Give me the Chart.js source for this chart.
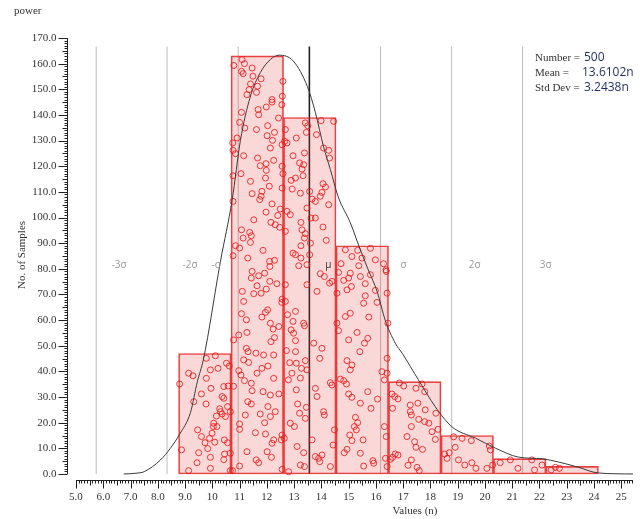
<!DOCTYPE html>
<html>
<head>
<meta charset="utf-8">
<script src="https://cdn.jsdelivr.net/npm/chart.js@4.4.0/dist/chart.umd.min.js"></script>
<style>
  body { margin: 0; background: #fff; }
  canvas { display: block; }
</style>
</head>
<body>
<canvas id="histChart" width="640" height="519"></canvas>
<script>
// histogram bins
var binEdges = [8.76, 10.69, 12.61, 14.54, 16.46, 18.39, 20.31, 22.24, 24.16];
var binCounts = [47, 163, 139, 89, 36, 15, 6, 3];

// smooth density curve
var curveX = [6.75, 7.2, 7.5, 8.1, 8.46, 8.8, 9.2, 9.45, 9.67, 10.3, 10.73, 11.03, 11.39, 11.76, 12.13, 12.45, 12.97, 13.49, 13.78, 14.08, 14.33, 14.62, 15.06, 15.43, 15.72, 16.05, 16.34, 16.71, 16.97, 17.56, 18.18, 18.8, 19.65, 20.38, 21.22, 22.1, 22.69, 23.4, 24.16, 25.45];
var curveY = [0, 0.3, 0.9, 5.5, 10, 15.5, 24, 36, 44.5, 83, 107, 130, 147, 156.5, 161.6, 163.3, 161, 151, 141, 127.6, 118.7, 108, 98, 87.4, 79.6, 71, 60, 51, 47, 36.7, 26.2, 18.3, 14, 10.1, 6.6, 5.9, 4.7, 2.7, 0.4, 0];

// sigma markers
var sigmaValues = [5.74, 8.34, 10.95, 13.56, 16.17, 18.78, 21.38];
var sigmaNames = ['-3\u03c3', '-2\u03c3', '-\u03c3', '\u03bc', '\u03c3', '2\u03c3', '3\u03c3'];

// tick labels
var xTicks = [5, 6, 7, 8, 9, 10, 11, 12, 13, 14, 15, 16, 17, 18, 19, 20, 21, 22, 23, 24, 25];
var yTicks = [0, 10, 20, 30, 40, 50, 60, 70, 80, 90, 100, 110, 120, 130, 140, 150, 160, 170];

var statNames = ['Number =', 'Mean =', 'Std Dev ='];
var statValues = ['500', '13.6102n', '3.2438n'];

// individual samples (jittered inside their bins)
var samples = [
  [9.13,39.3],[9.29,38.3],[8.80,35.1],[9.78,37.3],[9.93,40.6],[10.11,46.1],[9.78,45.1],[10.21,41.2],[10.52,43.2],[10.62,42.1],
  [9.95,33.4],[9.60,31.2],[9.32,28.2],[9.77,27.3],[10.42,34.1],[10.58,34.3],[10.36,30.2],[10.42,29.5],[10.27,25.4],[10.15,22.6],
  [10.56,26.3],[10.66,24.3],[10.48,22.4],[10.05,19.8],[9.46,17.2],[9.60,14.6],[9.99,15.9],[9.90,13.9],[9.73,12.2],[10.09,12.4],
  [10.44,13.3],[10.56,12.2],[8.87,9.4],[9.50,8.3],[9.93,6.5],[10.45,7.8],[10.66,8.1],[10.42,5.6],[9.44,4.4],[9.93,2.2],
  [9.13,1.3],[10.66,1.3],[10.30,24.3],[10.36,23.4],[10.17,18.5],[9.83,9.9],[10.04,18.5],
  [10.79,159.3],[11.09,161.6],[11.18,160.0],[11.46,158.3],[11.07,157.0],[11.13,156.1],[11.49,155.1],[11.79,154.1],[11.40,152.1],[11.66,151.2],
  [11.35,149.9],[11.62,148.8],[11.27,147.9],[12.19,146.0],[12.19,145.0],[12.59,153.1],[12.57,147.3],[12.55,144.0],[11.98,143.1],[11.68,142.1],
  [11.70,140.1],[11.07,141.0],[12.43,138.8],[11.00,137.1],[11.19,134.9],[11.62,134.3],[12.03,135.8],[12.28,133.2],[12.01,131.9],[12.21,130.1],
  [12.56,128.4],[12.13,127.1],[10.91,131.0],[10.75,129.1],[10.76,126.2],[10.85,124.9],[11.15,124.1],[11.66,123.2],[12.25,122.3],[11.97,121.0],
  [11.76,120.2],[11.98,118.4],[12.56,120.0],[12.59,117.1],[10.76,116.3],[11.05,117.1],[11.40,114.1],[11.46,109.3],[11.95,115.4],[12.09,112.2],
  [11.82,110.2],[11.74,107.0],[11.79,108.3],[12.56,111.5],[10.76,106.3],[12.19,105.3],[11.97,102.1],[12.49,103.3],[12.40,100.8],[12.15,98.1],
  [12.31,97.2],[12.47,96.2],[11.52,99.1],[11.07,95.2],[11.37,94.2],[11.43,92.9],[11.13,92.0],[11.40,90.3],[10.85,89.0],[11.00,88.1],
  [11.86,87.2],[11.30,84.2],[12.10,82.9],[12.28,83.3],[10.76,85.1],
  [12.11,80.9],[11.46,79.0],[11.70,77.3],[11.92,78.3],[11.43,76.4],[12.11,75.1],[12.37,74.2],[11.64,73.4],[11.98,72.1],[11.10,71.2],
  [11.52,70.3],[11.79,70.5],[11.15,67.3],[12.03,64.0],[11.95,63.0],[12.56,68.2],[12.55,66.9],[11.07,62.5],[11.82,61.2],[11.25,60.1],
  [12.13,58.8],[12.44,57.5],[12.23,56.5],[11.27,55.2],[12.15,51.6],[12.28,53.2],[10.78,52.3],[10.97,54.2],[11.25,49.0],[11.31,47.7],
  [11.60,47.1],[11.88,46.4],[12.25,46.4],[11.15,44.5],[11.33,43.5],[11.82,41.2],[12.04,42.1],[11.64,39.3],[11.05,38.6],[11.18,36.4],
  [10.97,40.3],[11.43,35.4],[12.25,37.3],[11.46,32.5],[11.86,32.1],[12.13,30.8],[12.44,31.2],[11.30,28.2],[11.43,27.3],[12.04,26.3],
  [11.76,23.4],[12.13,22.4],[12.31,24.3],[11.21,23.0],[11.00,19.5],[11.00,17.4],[11.92,20.0],[11.58,16.1],[11.95,15.6],[12.25,13.3],
  [12.19,12.0],[12.56,15.2],[12.53,13.3],[11.27,8.7],[11.61,5.5],[11.70,4.4],[12.01,8.7],[12.17,6.5],[11.00,3.1],[12.56,1.8],
  [10.74,1.3],[10.78,34.2],
  [13.41,136.9],[13.50,135.8],[13.45,133.2],[13.99,137.8],[14.45,137.5],[12.68,134.3],[13.08,131.0],[13.82,132.3],[12.65,129.7],[12.74,129.1],
  [13.38,125.2],[12.96,124.1],[14.08,127.1],[14.27,126.2],[14.30,123.2],[13.20,121.3],[13.35,120.6],[13.29,118.9],[13.05,115.4],[12.89,114.5],
  [13.33,116.3],[14.06,113.2],[14.15,111.9],[14.02,109.8],[12.93,111.1],[13.23,109.5],[13.57,110.2],[13.96,108.3],[13.78,106.3],[13.66,107.2],
  [14.27,105.0],[13.47,103.7],[12.74,102.4],[12.86,101.1],[13.62,99.8],[13.78,99.8],[14.06,96.3],[13.25,98.1],[13.29,95.2],[13.41,93.7],
  [13.38,92.0],[12.68,94.6],[14.18,91.1],[13.60,90.0],[13.25,89.0],[12.96,86.1],[13.05,85.5],[13.25,84.2],[13.57,85.5],[13.47,81.6],
  [13.17,81.2],[13.96,78.1],[14.11,77.0],[14.30,74.4],[13.47,73.8],[13.84,71.2],[14.39,75.1],[12.68,73.8],
  [12.68,67.3],[12.76,62.1],[13.05,63.4],[12.96,59.5],[13.35,58.8],[13.38,57.8],[12.89,56.2],[12.98,54.9],[13.05,52.0],[12.72,48.1],
  [13.05,47.7],[13.72,51.0],[14.02,49.0],[13.94,45.1],[12.84,43.4],[13.08,43.2],[13.41,44.2],[13.47,40.6],[13.27,41.2],[12.92,39.3],
  [13.23,37.4],[12.79,36.7],[13.78,33.4],[13.84,30.2],[14.33,35.6],[14.39,34.7],[13.08,32.8],[13.13,27.3],[13.45,26.0],[14.08,24.3],
  [14.11,23.0],[13.20,23.7],[13.41,21.7],[12.86,19.8],[13.01,18.5],[12.64,13.9],[13.11,10.7],[13.35,8.3],[13.66,13.3],[14.02,7.4],
  [13.90,6.1],[13.78,6.8],[14.43,11.3],[14.48,17.2],[13.23,3.5],[13.94,4.8],[14.33,2.9],[12.80,0.9],[13.38,2.9],
  [15.80,88.0],[14.88,87.4],[15.33,87.2],[15.12,84.8],[15.98,83.5],[15.49,84.2],[16.28,82.0],[14.72,82.0],[14.63,78.6],[15.06,78.3],
  [15.37,81.2],[15.00,76.4],[14.82,75.5],[15.80,77.7],[15.43,77.0],[16.38,79.0],[15.10,73.1],[15.61,74.2],[15.98,71.6],[14.94,71.8],
  [14.57,70.5],[15.61,69.5],[15.55,66.6],[16.04,66.9],[15.74,61.2],[15.06,62.7],[14.88,61.4],[14.57,58.8],[14.63,55.9],[15.31,55.2],
  [15.70,52.9],[15.58,51.0],[15.00,52.3],[15.41,47.7],[14.94,44.2],[15.06,40.6],[15.12,42.5],[14.70,37.0],[14.82,36.4],[14.92,35.1],
  [15.00,31.2],[15.12,29.9],[15.43,27.6],[15.70,32.1],[16.06,29.2],[15.82,25.6],[15.25,22.1],[15.33,20.0],[15.21,18.5],[15.28,17.2],
  [15.04,15.2],[15.12,13.0],[15.53,13.3],[14.94,9.6],[14.84,8.3],[15.43,8.1],[15.89,5.2],[15.92,4.2],[15.55,3.1],[16.31,18.5],
  [16.38,14.6],[16.35,6.1],[16.41,2.9],[16.22,39.9],[16.31,36.7],[16.37,79.6],[16.41,70.5],[16.44,58.8],[16.41,45.1],[16.41,39.3],
  [16.86,35.5],[17.02,34.3],[17.47,33.4],[17.69,35.1],[17.79,32.1],[16.59,31.2],[16.69,30.2],[16.81,29.3],[16.61,25.6],[17.26,26.9],
  [17.54,27.6],[17.26,24.3],[17.30,23.0],[18.20,23.7],[17.57,21.3],[17.79,20.4],[17.94,19.8],[17.30,18.5],[18.28,17.4],[18.06,16.5],
  [18.18,13.5],[17.14,14.6],[17.42,12.6],[17.47,10.4],[17.71,9.6],[16.71,7.8],[16.81,7.4],[16.61,6.5],[17.30,5.5],[17.18,3.4],
  [17.51,2.6],[17.59,1.3],[16.53,5.7],[17.81,25.0],
  [18.85,14.5],[18.52,7.8],[18.69,8.3],[18.61,6.1],[18.91,10.4],[19.03,5.5],[19.26,3.5],[19.50,13.0],[19.52,4.4],[19.67,2.2],
  [20.07,2.2],[20.16,10.9],[20.20,9.4],[20.28,3.5],[19.16,13.9],
  [20.56,4.4],[20.93,5.5],[21.21,2.2],[21.72,5.5],[21.82,1.6],[22.09,3.5],
  [22.43,1.6],[22.58,2.6],[22.73,2.2]
];

var SERIF = '"Liberation Serif", "DejaVu Serif", serif';
var SANS = '"Open Sans", "DejaVu Sans", sans-serif';

var barData = binCounts.map(function (n, i) {
  return { x: (binEdges[i] + binEdges[i + 1]) / 2, y: n };
});
var curveData = curveX.map(function (x, i) { return { x: x, y: curveY[i] }; });
var sampleData = samples.map(function (p) { return { x: p[0], y: p[1] }; });

var datasets = [];
sigmaValues.forEach(function (v, i) {
  datasets.push({
    type: 'line',
    data: [{ x: v, y: 0 }, { x: v, y: 166.7 }],
    borderColor: i === 3 ? '#222' : '#bdbdbd',
    borderWidth: i === 3 ? 1.6 : 1,
    pointRadius: 0,
    order: 5
  });
});
datasets.push({
  type: 'bar',
  data: barData,
  backgroundColor: 'rgba(236, 60, 60, 0.2)',
  borderColor: 'rgba(228, 30, 30, 0.85)',
  borderWidth: 1,
  borderSkipped: false,
  barPercentage: 1,
  categoryPercentage: 1,
  order: 4
});
datasets.push({
  type: 'scatter',
  data: sampleData,
  pointRadius: 3,
  pointBorderWidth: 1,
  pointBackgroundColor: 'rgba(255, 255, 255, 0)',
  pointBorderColor: 'rgba(235, 25, 25, 0.85)',
  order: 3
});
datasets.push({
  type: 'line',
  data: curveData,
  borderColor: '#3a3a3a',
  borderWidth: 1,
  pointRadius: 0,
  cubicInterpolationMode: 'monotone',
  order: 2
});

// axes, tick marks and annotation text
var decorations = {
  id: 'decorations',
  afterDraw: function (chart) {
    var c = chart.ctx;
    var xs = chart.scales.x, ys = chart.scales.y;
    var area = chart.chartArea;
    var left = Math.round(area.left) + 0.5;
    var axisY = Math.round(area.bottom) + 0.5;
    c.save();
    c.strokeStyle = '#222';
    c.fillStyle = '#333';
    c.lineWidth = 1;

    // y axis
    c.beginPath();
    c.moveTo(left, ys.getPixelForValue(170));
    c.lineTo(left, ys.getPixelForValue(0));
    c.stroke();
    for (var v = 0; v <= 170; v++) {
      var py = Math.round(ys.getPixelForValue(v)) + 0.5;
      var len = v % 10 === 0 ? 9 : (v % 5 === 0 ? 5 : 3);
      c.beginPath();
      c.moveTo(left - len, py);
      c.lineTo(left, py);
      c.stroke();
    }
    c.font = '11px ' + SERIF;
    c.textAlign = 'right';
    c.textBaseline = 'middle';
    yTicks.forEach(function (t) {
      c.fillText(t.toFixed(1), left - 11, ys.getPixelForValue(t));
    });

    // x axis
    c.beginPath();
    c.moveTo(xs.getPixelForValue(5), axisY);
    c.lineTo(area.right, axisY);
    c.stroke();
    for (var k = 50; k <= 254; k++) {
      var px = Math.round(xs.getPixelForValue(k / 10)) + 0.5;
      var l = k % 10 === 0 ? 8 : (k % 5 === 0 ? 5 : 3);
      c.beginPath();
      c.moveTo(px, axisY);
      c.lineTo(px, axisY + l);
      c.stroke();
    }
    c.textAlign = 'center';
    c.textBaseline = 'top';
    xTicks.forEach(function (t) {
      c.fillText(t < 10 ? t.toFixed(1) : String(t), xs.getPixelForValue(t), axisY + 11);
    });

    // titles
    c.fillText('Values (n)', 415, 506);
    c.textAlign = 'left';
    c.fillText('power', 14, 6);
    c.save();
    c.translate(22, 255);
    c.rotate(-Math.PI / 2);
    c.textAlign = 'center';
    c.textBaseline = 'middle';
    c.fillText('No. of Samples', 0, 0);
    c.restore();

    // sigma labels
    c.font = '10px ' + SANS;
    c.textAlign = 'center';
    c.textBaseline = 'middle';
    sigmaValues.forEach(function (v, i) {
      var off = i === 2 ? -22 : (i === 3 ? 19 : 23);
      c.fillStyle = i === 3 ? '#333' : '#9a9a9a';
      c.fillText(sigmaNames[i], xs.getPixelForValue(v) + off, ys.getPixelForValue(81.6));
    });

    // statistics box
    c.textAlign = 'left';
    c.textBaseline = 'middle';
    statNames.forEach(function (name, i) {
      var y = 58 + i * 15;
      c.font = '11px ' + SERIF;
      c.fillStyle = '#333';
      c.fillText(name, 535, y);
      c.font = '12px ' + SANS;
      c.fillStyle = '#1f2d5c';
      c.fillText(statValues[i], i === 1 ? 582 : 584, y);
    });
    c.restore();
  }
};

new Chart(document.getElementById('histChart'), {
  data: { datasets: datasets },
  options: {
    responsive: false,
    animation: false,
    layout: { padding: { left: 67, right: 7, top: 38, bottom: 39 } },
    scales: {
      x: { type: 'linear', min: 4.67, max: 25.43, offset: false, display: false },
      y: { type: 'linear', min: -2.34, max: 170, display: false }
    },
    plugins: {
      legend: { display: false },
      tooltip: { enabled: false }
    }
  },
  plugins: [decorations]
});
</script>
</body>
</html>
